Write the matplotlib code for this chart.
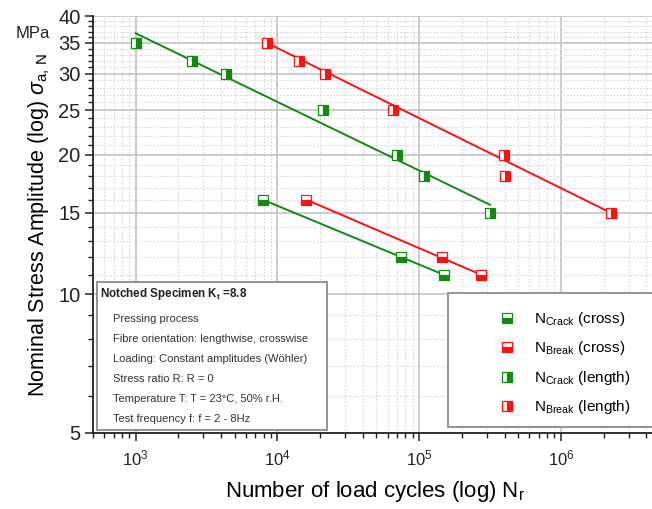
import numpy as np
import matplotlib
matplotlib.use("Agg")
from matplotlib import pyplot as plt
from matplotlib.lines import Line2D
from matplotlib.patches import Rectangle
from matplotlib.ticker import FixedLocator, FixedFormatter, LogLocator, NullFormatter

plt.rcParams['font.family'] = ['Liberation Sans', 'DejaVu Sans']
plt.rcParams['mathtext.fontset'] = 'custom'
plt.rcParams['mathtext.rm'] = 'Liberation Sans'
plt.rcParams['mathtext.it'] = 'Liberation Sans:italic'
plt.rcParams['mathtext.bf'] = 'Liberation Sans:bold'

# measured points (load cycles, stress amplitude in MPa)
crack_cross_n = [7900, 74000, 150000]
crack_cross_s = [16, 12, 11]
break_cross_n = [16000, 146000, 275000]
break_cross_s = [16, 12, 11]
crack_len_n = [1000, 2500, 4350, 20800, 69700, 108000, 316000]
crack_len_s = [35, 32, 30, 25, 20, 18, 15]
break_len_n = [8400, 14300, 21700, 65900, 397000, 401000, 2240000]
break_len_s = [35, 32, 30, 25, 20, 18, 15]

# Woehler fit lines (end points)
fit_crack_len_n = [1000, 316000]
fit_crack_len_s = [36.7, 15.6]
fit_break_len_n = [8400, 2240000]
fit_break_len_s = [35, 15]
fit_crack_cross_n = [7900, 150000]
fit_crack_cross_s = [16, 11]
fit_break_cross_n = [16000, 275000]
fit_break_cross_s = [16, 11]

y_major = [5, 10, 15, 20, 25, 30, 35, 40]
y_minor = [v for v in range(5, 41) if v not in y_major]

legend_labels = [r'N$_{\rm Crack}$ (cross)', r'N$_{\rm Break}$ (cross)',
                 r'N$_{\rm Crack}$ (length)', r'N$_{\rm Break}$ (length)']

info_title = r'Notched Specimen K$_{\bf t}$ =8.8'
info_lines = ['Pressing process',
              'Fibre orientation: lengthwise, crosswise',
              'Loading: Constant amplitudes (W\u00f6hler)',
              'Stress ratio R: R = 0',
              'Temperature T: T = 23\u00b0C, 50% r.H.',
              'Test frequency f: f = 2 - 8Hz']

GREEN = '#108a10'
RED = '#ff1010'

W, H = 652, 509
fig = plt.figure(figsize=(W / 100, H / 100), dpi=100)
ax = fig.add_axes([93 / W, (H - 433) / H, (660 - 93) / W, (433 - 16) / H])

ax.set_xscale('log')
ax.set_yscale('log')
ax.set_xlim(500, 5e6)
ax.set_ylim(5, 40)

# fit lines
ax.plot(fit_crack_len_n, fit_crack_len_s, color=GREEN, lw=1.4, zorder=3)
ax.plot(fit_break_len_n, fit_break_len_s, color=RED, lw=1.4, zorder=3)
ax.plot(fit_crack_cross_n, fit_crack_cross_s, color=GREEN, lw=1.4, zorder=3)
ax.plot(fit_break_cross_n, fit_break_cross_s, color=RED, lw=1.4, zorder=3)

def mk(color, fill):
    return dict(marker='s', markersize=7.5, fillstyle=fill, markerfacecolor=color,
                markerfacecoloralt='white', markeredgecolor=color, markeredgewidth=0.9,
                linestyle='none')

ax.plot(crack_cross_n, crack_cross_s, zorder=4, **mk(GREEN, 'bottom'))
ax.plot(break_cross_n, break_cross_s, zorder=4, **mk(RED, 'bottom'))
ax.plot(crack_len_n, crack_len_s, zorder=4, **mk(GREEN, 'right'))
ax.plot(break_len_n, break_len_s, zorder=4, **mk(RED, 'right'))

# ticks
ax.yaxis.set_major_locator(FixedLocator(y_major))
ax.yaxis.set_major_formatter(FixedFormatter([str(v) for v in y_major]))
ax.yaxis.set_minor_locator(FixedLocator(y_minor))
ax.yaxis.set_minor_formatter(NullFormatter())
ax.xaxis.set_major_locator(LogLocator(base=10, numticks=10))
ax.xaxis.set_minor_locator(LogLocator(base=10, subs=np.arange(2, 10), numticks=20))
ax.xaxis.set_minor_formatter(NullFormatter())
ax.tick_params(axis='both', which='major', direction='out', length=6, width=1.1,
               colors='#222222')
ax.tick_params(axis='both', which='minor', direction='out', length=3.5, width=1.0,
               colors='#222222')
ax.tick_params(axis='x', which='major', pad=5, labelsize=12)
ax.tick_params(axis='y', which='major', pad=3, labelsize=14.5)

# grid
ax.grid(True, which='major', color='#c4c4c4', lw=1.2, ls='-', zorder=0)
ax.grid(True, which='minor', color='#d8d8d8', lw=0.8, ls=(0, (1.5, 1.5)), zorder=0)
ax.set_axisbelow(True)

for s in ['top', 'right']:
    ax.spines[s].set_visible(False)
for s in ['left', 'bottom']:
    ax.spines[s].set_color('#222222')
    ax.spines[s].set_linewidth(1.3)

ax.set_xlabel(r'Number of load cycles (log) N$_{\rm r}$', fontsize=16)
ax.xaxis.set_label_coords((375 - 93) / 567, (433 - 491) / 417)
ax.xaxis.label.set_va('center')
ax.set_ylabel(r'Nominal Stress Amplitude (log) $\sigma_{\rm a,\,N}$', fontsize=15.5)
ax.yaxis.set_label_coords((39 - 93) / 567, (433 - 225) / 417)
ax.yaxis.label.set_va('center')

fig.text(33 / W, 1 - 33 / H, 'MPa', fontsize=12, ha='center', va='center', color='#222222')

# info box
fig.add_artist(Rectangle((97 / W, 1 - 430 / H), (327 - 97) / W, (430 - 282) / H,
                         transform=fig.transFigure, facecolor='white', edgecolor='#8a8a8a',
                         lw=1.3, zorder=5))
fig.text(100 / W, 1 - 294 / H, info_title, fontsize=8.4, fontweight='bold',
         ha='left', va='center', color='#222222', zorder=6)
for i, line in enumerate(info_lines):
    fig.text(113 / W, 1 - (319 + i * 20) / H, line, fontsize=8, ha='left', va='center',
             color='#333333', zorder=6)

# legend box
fig.add_artist(Rectangle((448 / W, 1 - 427 / H), (670 - 448) / W, (427 - 293) / H,
                         transform=fig.transFigure, facecolor='white', edgecolor='#8a8a8a',
                         lw=1.3, zorder=5))
handles = [Line2D([], [], **mk(GREEN, 'bottom')),
           Line2D([], [], **mk(RED, 'bottom')),
           Line2D([], [], **mk(GREEN, 'right')),
           Line2D([], [], **mk(RED, 'right'))]
leg = fig.legend(handles, legend_labels, loc='upper left', bbox_to_anchor=(499 / W, 1 - 310 / H),
                 bbox_transform=fig.transFigure, frameon=False, fontsize=11, borderpad=0,
                 borderaxespad=0, handlelength=1.0, handletextpad=1.3, labelspacing=0.75,
                 numpoints=1)
leg.set_zorder(6)

fig.savefig('out.png', dpi=100)
